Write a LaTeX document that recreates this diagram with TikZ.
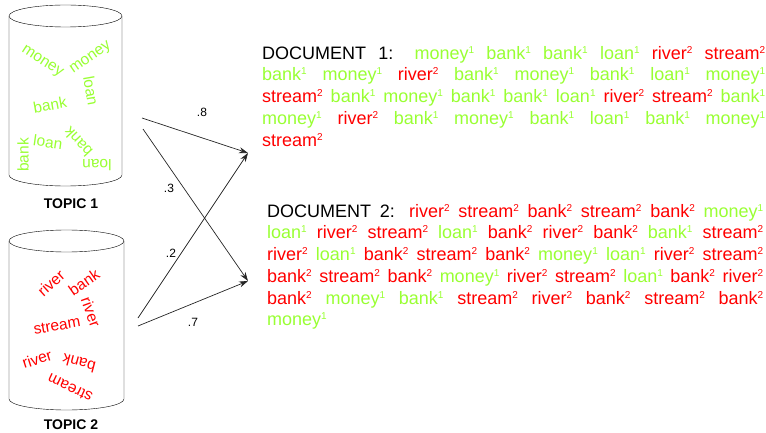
\documentclass[tikz,border=0pt]{standalone}
\usepackage{fontspec}
\setmainfont{Liberation Sans}
\usetikzlibrary{arrows.meta}

\definecolor{topicone}{RGB}{153,255,51}
\definecolor{topictwo}{RGB}{255,0,0}

\newcommand{\topicmark}[1]{\raisebox{6pt}{\fontsize{10}{10}\selectfont#1}}
\newcommand{\wone}[1]{\textcolor{topicone}{#1\topicmark{1}}}
\newcommand{\wtwo}[1]{\textcolor{topictwo}{#1\topicmark{2}}}
\newcommand{\docrow}[2]{\makebox[#1][s]{#2}}

\begin{document}
\begin{tikzpicture}[x=1pt, y=-1pt,
  word/.style={font=\fontsize{15.5}{15.5}\selectfont, inner sep=0pt},
  wordone/.style={word, text=topicone},
  wordtwo/.style={word, text=topictwo},
  topic/.style={font=\fontsize{14}{14}\selectfont\bfseries},
  weight/.style={font=\fontsize{12}{12}\selectfont},
  doc/.style={font=\fontsize{18}{21.7}\selectfont, align=left, inner sep=0pt, anchor=north west},
  link/.style={-{Stealth[length=9pt,width=6pt]}, line width=0.7pt, draw=black!85}]

\useasboundingbox (0,0) rectangle (766,433);

% topic 1
\draw (65.5,16) ellipse (56.5 and 11);
\draw (9,16) -- (9,175) arc[start angle=180, end angle=0, x radius=56.5, y radius=11] -- (122,16);
\node[wordone, rotate=-33] (ta) at (42,62) {money};
\node[wordone, rotate=35] (tb) at (91,58) {money};
\node[wordone, rotate=-80] (tc) at (91,91) {loan};
\node[wordone, rotate=10] (td) at (50,105) {bank};
\node[wordone, rotate=-8] (te) at (48,142) {loan};
\node[wordone, rotate=133] (tf) at (78,142) {bank};
\node[wordone, rotate=180] (tg) at (97,165) {loan};
\node[wordone, rotate=90] (th) at (23,155) {bank};
\node[topic] (topicone) at (71,204) {TOPIC 1};

% topic 2
\draw (66.5,241) ellipse (57.5 and 11);
\draw (9,241) -- (9,399) arc[start angle=180, end angle=0, x radius=57.5, y radius=11] -- (124,241);
\node[wordtwo, rotate=42] (ua) at (51,283) {river};
\node[wordtwo, rotate=35] (ub) at (84,282) {bank};
\node[wordtwo, rotate=-70] (uc) at (91,312) {river};
\node[wordtwo, rotate=10] (ud) at (57,326) {stream};
\node[wordtwo, rotate=18] (ue) at (37,359) {river};
\node[wordtwo, rotate=165] (uf) at (79,363) {bank};
\node[wordtwo, rotate=155] (ug) at (70,388) {stream};
\node[topic] (topictwo) at (71,425) {TOPIC 2};

% mixture weights
\coordinate (outone) at (142,118);
\coordinate (outonex) at (143,129);
\coordinate (outtwo) at (138,318);
\coordinate (outtwox) at (138,326);
\coordinate (inone) at (248,153);
\coordinate (intwo) at (248,281);

\draw[link] (outone) -- (inone);
\draw[link] (outonex) -- (intwo);
\draw[link] (outtwo) -- (inone);
\draw[link] (outtwox) -- (intwo);
\node[weight] (wa) at (202,112) {.8};
\node[weight] (wb) at (169,188) {.3};
\node[weight] (wc) at (171,253) {.2};
\node[weight] (wd) at (193,322) {.7};

% documents
\node[doc] (docone) at (262,46) {%
\docrow{503pt}{DOCUMENT 1: \wone{money} \wone{bank} \wone{bank} \wone{loan} \wtwo{river} \wtwo{stream}}\\
\docrow{503pt}{\wone{bank} \wone{money} \wtwo{river} \wone{bank} \wone{money} \wone{bank} \wone{loan} \wone{money}}\\
\docrow{503pt}{\wtwo{stream} \wone{bank} \wone{money} \wone{bank} \wone{bank} \wone{loan} \wtwo{river} \wtwo{stream} \wone{bank}}\\
\docrow{503pt}{\wone{money} \wtwo{river} \wone{bank} \wone{money} \wone{bank} \wone{loan} \wone{bank} \wone{money}}\\
\wtwo{stream}};

\node[doc] (doctwo) at (267,204) {%
\docrow{496pt}{DOCUMENT 2: \wtwo{river} \wtwo{stream} \wtwo{bank} \wtwo{stream} \wtwo{bank} \wone{money}}\\
\docrow{496pt}{\wone{loan} \wtwo{river} \wtwo{stream} \wone{loan} \wtwo{bank} \wtwo{river} \wtwo{bank} \wone{bank} \wtwo{stream}}\\
\docrow{496pt}{\wtwo{river} \wone{loan} \wtwo{bank} \wtwo{stream} \wtwo{bank} \wone{money} \wone{loan} \wtwo{river} \wtwo{stream}}\\
\docrow{496pt}{\wtwo{bank} \wtwo{stream} \wtwo{bank} \wone{money} \wtwo{river} \wtwo{stream} \wone{loan} \wtwo{bank} \wtwo{river}}\\
\docrow{496pt}{\wtwo{bank} \wone{money} \wone{bank} \wtwo{stream} \wtwo{river} \wtwo{bank} \wtwo{stream} \wtwo{bank}}\\
\wone{money}};

\end{tikzpicture}
\end{document}
